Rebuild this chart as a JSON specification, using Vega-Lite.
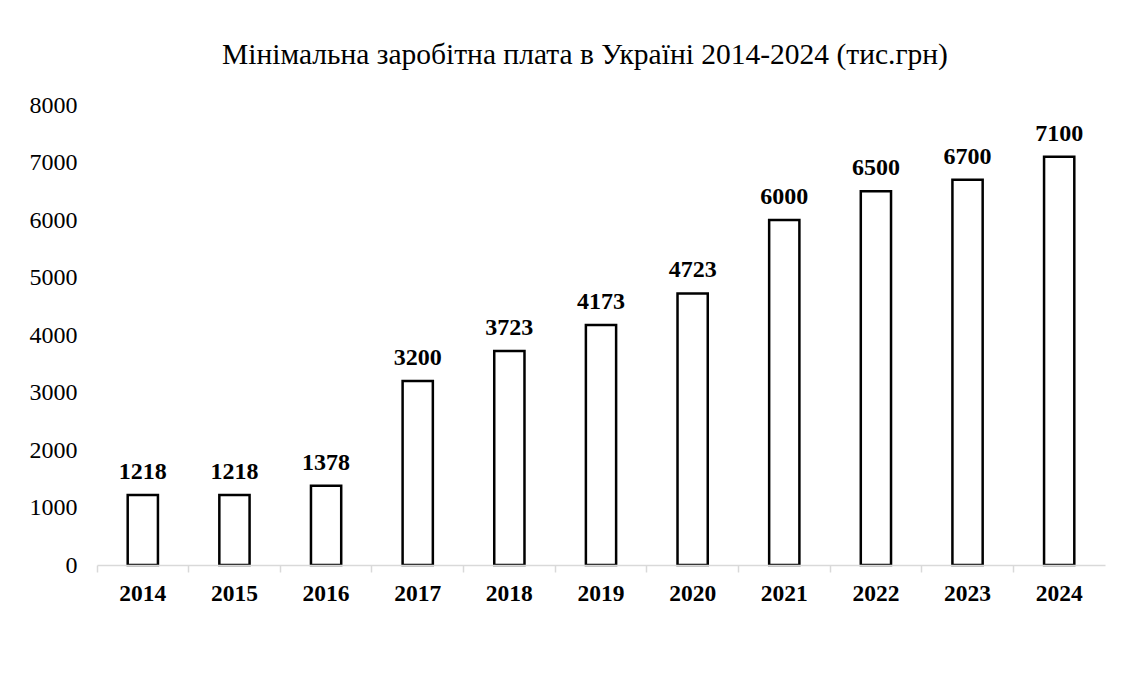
{
  "$schema": "https://vega.github.io/schema/vega-lite/v6.json",
  "autosize": "none",
  "width": 1008,
  "height": 460,
  "padding": {"left": 97, "top": 105, "right": 43, "bottom": 115},
  "background": "white",
  "title": {
    "text": "Мінімальна заробітна плата в Україні 2014-2024 (тис.грн)",
    "font": "Liberation Serif",
    "fontSize": 29.5,
    "fontWeight": "normal",
    "color": "#000000",
    "frame": "group",
    "anchor": "middle",
    "dx": -16,
    "baseline": "alphabetic",
    "offset": 0
  },
  "data": {
    "values": [
      {"year": "2014", "value": 1218},
      {"year": "2015", "value": 1218},
      {"year": "2016", "value": 1378},
      {"year": "2017", "value": 3200},
      {"year": "2018", "value": 3723},
      {"year": "2019", "value": 4173},
      {"year": "2020", "value": 4723},
      {"year": "2021", "value": 6000},
      {"year": "2022", "value": 6500},
      {"year": "2023", "value": 6700},
      {"year": "2024", "value": 7100}
    ]
  },
  "encoding": {
    "x": {
      "field": "year",
      "type": "nominal",
      "sort": null,
      "scale": {"paddingInner": 0, "paddingOuter": 0},
      "axis": {
        "title": null,
        "labelAngle": 0,
        "labelFont": "Liberation Serif",
        "labelFontSize": 23.5,
        "labelFontWeight": "bold",
        "labelColor": "#000000",
        "labelPadding": 9,
        "bandPosition": 0,
        "domainColor": "#d9d9d9",
        "domainWidth": 1.5,
        "tickColor": "#d9d9d9",
        "tickWidth": 1.5,
        "tickSize": 7,
        "grid": false,
        "zindex": 1
      }
    },
    "y": {
      "field": "value",
      "type": "quantitative",
      "scale": {"domain": [0, 8000], "nice": false},
      "axis": {
        "title": null,
        "values": [0, 1000, 2000, 3000, 4000, 5000, 6000, 7000, 8000],
        "format": "d",
        "labelFont": "Liberation Serif",
        "labelFontSize": 24,
        "labelColor": "#000000",
        "labelPadding": 20,
        "domain": false,
        "ticks": false,
        "grid": false
      }
    }
  },
  "layer": [
    {
      "mark": {
        "type": "bar",
        "width": {"band": 0.33},
        "fill": "white",
        "stroke": "black",
        "strokeWidth": 2.5
      }
    },
    {
      "mark": {
        "type": "text",
        "font": "Liberation Serif",
        "fontSize": 24,
        "fontWeight": "bold",
        "color": "black",
        "baseline": "alphabetic",
        "dy": -16
      },
      "encoding": {"text": {"field": "value", "type": "quantitative", "format": "d"}}
    }
  ],
  "config": {"view": {"stroke": null}}
}
